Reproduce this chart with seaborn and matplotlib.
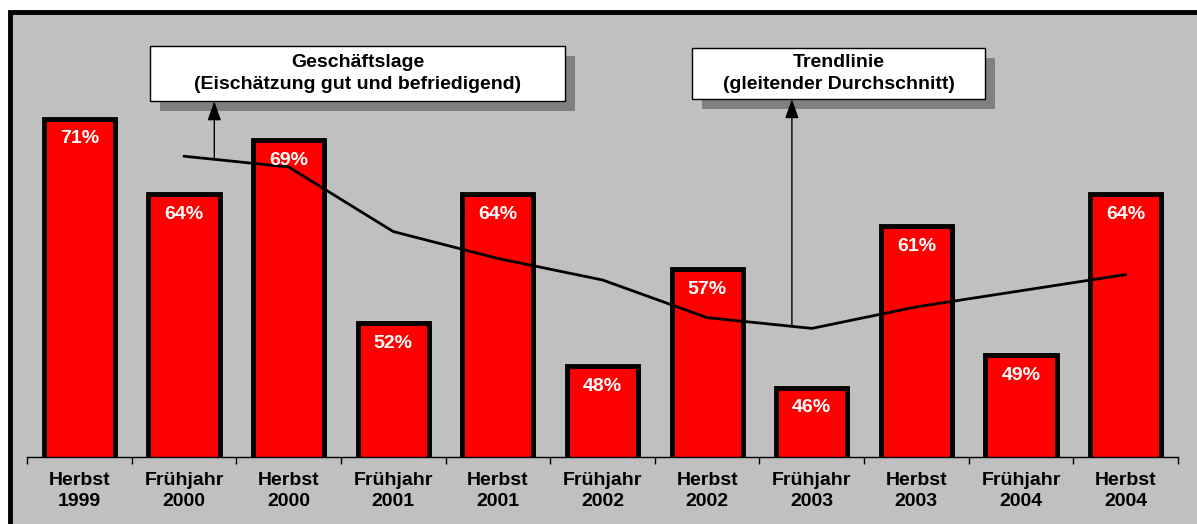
import numpy as np
import pandas as pd
import matplotlib
matplotlib.use("Agg")
import matplotlib.pyplot as plt
import matplotlib.patheffects as pe
from matplotlib.patches import Rectangle
import seaborn as sns

# data
categories = ["Herbst\n1999", "Frühjahr\n2000", "Herbst\n2000", "Frühjahr\n2001",
              "Herbst\n2001", "Frühjahr\n2002", "Herbst\n2002", "Frühjahr\n2003",
              "Herbst\n2003", "Frühjahr\n2004", "Herbst\n2004"]
values = [71, 64, 69, 52, 64, 48, 57, 46, 61, 49, 64]
# trend line (gleitender Durchschnitt), starts at the 2nd period
trend = [67.5, 66.5, 60.5, 58, 56, 52.5, 51.5, 53.5, 55, 56.5]

sns.set_style("white")
plt.rcParams["font.family"] = ["Liberation Sans", "DejaVu Sans"]
plt.rcParams["font.weight"] = "bold"

fig = plt.figure(figsize=(11.97, 5.24), dpi=100)
W, H = 1197, 524

# gray chart area with black frame (left/top)
fig.patches.append(Rectangle((10 / W, -0.1), 1.2, (524 - 12) / H + 0.1,
                             transform=fig.transFigure, facecolor="#c0c0c0",
                             edgecolor="black", linewidth=3.5, zorder=-5))

ax = fig.add_axes([27 / W, (524 - 457) / H, 1151 / W, 445 / H])
ax.set_facecolor("none")
ax.set_zorder(5)

Data = pd.DataFrame({"Periode": categories, "Wert": values})
sns.barplot(data=Data, x="Periode", y="Wert", color="red", saturation=1,
            width=0.68, edgecolor="black", linewidth=3.5, ax=ax)
for p in ax.patches:
    p.set_path_effects([pe.SimplePatchShadow(offset=(2, -2), shadow_rgbFace="black", alpha=1),
                        pe.Normal()])

ax.plot(range(1, len(categories)), trend, color="black", linewidth=2)

for i, v in enumerate(values):
    ax.annotate(f"{v}%", (i, v), xytext=(0, -14.5), textcoords="offset points",
                ha="center", va="center", color="white", fontsize=14,
                fontweight="bold")

ax.set_xlim(-0.5, len(categories) - 0.5)
ax.set_ylim(39.55, 80.9)
ax.set_xlabel("")
ax.set_ylabel("")
ax.set_yticks([])
for s in ["left", "right", "top"]:
    ax.spines[s].set_visible(False)
ax.spines["bottom"].set_color("black")
ax.spines["bottom"].set_linewidth(1)
ax.set_xticks(range(len(categories)))
ax.set_xticklabels(categories, fontsize=14, fontweight="bold", linespacing=1.3,
                   color="black")
ax.set_xticks(np.arange(-0.5, len(categories)), minor=True)
ax.tick_params(axis="x", which="major", length=0, pad=11, bottom=False)
ax.tick_params(axis="x", which="minor", length=5, width=1, color="black",
               direction="out", bottom=True)

# annotation boxes with shadow
def callout(x0, y0, x1, y1, text):
    fig.patches.append(Rectangle(((x0 + 10) / W, 1 - (y1 + 10) / H), (x1 - x0) / W, (y1 - y0) / H,
                                 transform=fig.transFigure, facecolor="#808080",
                                 edgecolor="none", zorder=1))
    fig.patches.append(Rectangle((x0 / W, 1 - y1 / H), (x1 - x0) / W, (y1 - y0) / H,
                                 transform=fig.transFigure, facecolor="white",
                                 edgecolor="black", linewidth=1, zorder=2))
    fig.text((x0 + x1) / 2 / W, 1 - (y0 + y1) / 2 / H, text, ha="center", va="center",
             fontsize=14, fontweight="bold", linespacing=1.35, color="black", zorder=3)

callout(150, 46, 565, 101, "Geschäftslage\n(Eischätzung gut und befriedigend)")
callout(692, 48, 985, 99, "Trendlinie\n(gleitender Durchschnitt)")

arrow = dict(arrowstyle="-|>,head_length=0.9,head_width=0.32", color="black",
             linewidth=1, mutation_scale=13, shrinkA=0, shrinkB=0)
ax.annotate("", xy=(1.29, 72.6), xytext=(1.29, 67.2), arrowprops=arrow)
ax.annotate("", xy=(6.81, 72.8), xytext=(6.81, 51.7), arrowprops=arrow)

fig.savefig("out.png", dpi=100)
